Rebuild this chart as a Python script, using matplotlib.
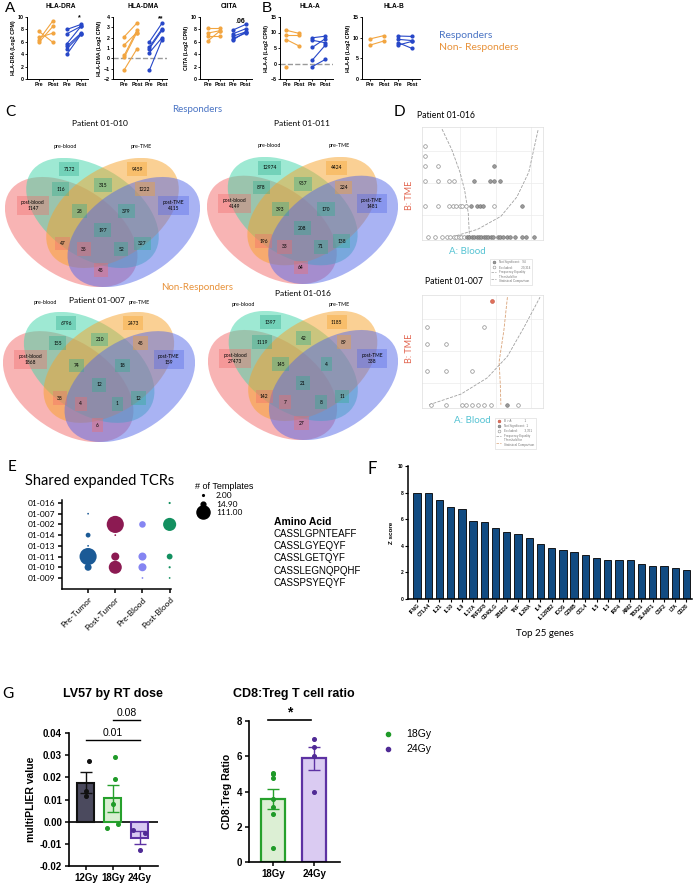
import numpy as np
import matplotlib
matplotlib.use("Agg")
import matplotlib.pyplot as plt
from matplotlib.patches import Ellipse
from matplotlib.lines import Line2D

W, H = 693, 886
plt.rcParams['font.family'] = ['Liberation Sans', 'DejaVu Sans']
CAL = ['Lato', 'DejaVu Sans']

ORANGE = '#f2a540'
BLUE = '#2747c8'

# ---------------- A / B : paired Log2 CPM (NR pre/post, R pre/post) ----------------
dra_nr_pre = [5.9, 6.3, 6.7, 7.7]
dra_nr_post = [8.5, 9.4, 7.4, 5.9]
dra_r_pre = [8.0, 7.3, 5.7, 5.3, 4.9, 4.0]
dra_r_post = [8.8, 8.5, 8.5, 7.4, 7.2, 7.2]

dma_nr_pre = [2.1, 1.3, 0.3, 0.1, -1.1]
dma_nr_post = [3.4, 2.5, 2.7, 2.5, 0.9]
dma_r_pre = [1.6, 1.1, 0.95, 0.55, -1.15]
dma_r_post = [3.4, 2.85, 2.7, 2.0, 1.8]

ciita_nr_pre = [8.3, 7.4, 6.9, 6.1]
ciita_nr_post = [8.3, 7.8, 6.9, 7.8]
ciita_r_pre = [7.9, 7.3, 6.9, 6.5, 6.3]
ciita_r_post = [8.8, 8.1, 7.6, 7.4, 7.6]

hlaa_nr_pre = [10.7, 9.2, 7.7, -1.0]
hlaa_nr_post = [9.7, 9.2, 5.6, np.nan]
hlaa_r_pre = [8.3, 7.5, 5.2, 1.1, -1.0]
hlaa_r_post = [8.8, 6.7, 8.0, 5.9, 1.3]

hlab_nr_pre = [9.7, 8.2]
hlab_nr_post = [10.5, 9.2]
hlab_r_pre = [10.4, 9.6, 8.8, 8.2]
hlab_r_post = [10.3, 9.3, 7.4, 9.1]

pair_ticklabels = ['Pre', 'Post', 'Pre', 'Post']

# ---------------- C : Venn counts ----------------
venn_regions = ['1000', '0100', '0010', '0001', '1100', '0110', '0011', '1110',
                '0111', '1111', '1010', '1011', '1101', '0101', '1001']
counts_010 = [1147, 7172, 9459, 4115, 116, 315, 1222, 28, 379, 197, 47, 35, 52, 327, 45]
counts_011 = [4149, 12974, 4424, 1481, 878, 957, 224, 393, 170, 208, 196, 33, 71, 138, 64]
counts_007 = [1868, 6796, 2473, 159, 155, 210, 45, 74, 18, 12, 38, 4, 1, 12, 6]
counts_016 = [27473, 1397, 1185, 338, 1119, 42, 89, 145, 4, 21, 142, 7, 8, 11, 27]
venn_sets = ['post-blood', 'pre-blood', 'pre-TME', 'post-TME']

# ---------------- D : TCR frequency scatter (scaled log frequency) ----------------
d1_excl_x = [0.005, 0.005, 0.005, 0.005, 0.005, 0.113, 0.113, 0.113, 0.204, 0.253,
             0.204, 0.245, 0.27, 0.30, 0.32, 0.35, 0.59,
             0.03, 0.09, 0.15, 0.19, 0.22, 0.25, 0.27, 0.29, 0.31, 0.33]
d1_excl_y = [0.84, 0.75, 0.655, 0.52, 0.29, 0.655, 0.52, 0.29, 0.52, 0.52,
             0.29, 0.29, 0.29, 0.29, 0.29, 0.29, 0.29,
             0, 0, 0, 0, 0, 0, 0, 0, 0, 0]
d1_ns_x = [0.416, 0.556, 0.584, 0.64, 0.59, 0.397, 0.44, 0.465, 0.49, 0.82,
           0.36, 0.38, 0.40, 0.42, 0.44, 0.46, 0.48, 0.50, 0.52, 0.54, 0.56,
           0.58, 0.62, 0.64, 0.66, 0.70, 0.72, 0.76, 0.82, 0.86, 0.92]
d1_ns_y = [0.52, 0.52, 0.52, 0.52, 0.655, 0.29, 0.29, 0.29, 0.29, 0.29] + [0] * 21
d1_thr_x = [0.149, 0.231, 0.30, 0.34, 0.37, 0.38]
d1_thr_y = [1.0, 0.81, 0.60, 0.43, 0.22, 0.0]
d1_eq_x = [0.27, 0.45, 0.645, 0.78, 0.88, 0.96]
d1_eq_y = [0.01, 0.07, 0.19, 0.37, 0.60, 1.0]

d2_excl_x = [0.02, 0.02, 0.02, 0.185, 0.185, 0.40, 0.50,
             0.06, 0.185, 0.32, 0.35, 0.40, 0.45, 0.50, 0.56, 0.79]
d2_excl_y = [0.72, 0.566, 0.31, 0.566, 0.31, 0.31, 0.72,
             0, 0, 0, 0, 0, 0, 0, 0, 0]
d2_ns_x = [0.70]
d2_ns_y = [0.0]
d2_sig_x = [0.57]
d2_sig_y = [0.965]
d2_thr_x = [0.70, 0.67, 0.63, 0.64, 0.645]
d2_thr_y = [1.0, 0.69, 0.40, 0.19, 0.0]
d2_eq_x = [0.04, 0.31, 0.53, 0.70, 0.84, 0.975]
d2_eq_y = [0.0, 0.10, 0.25, 0.45, 0.72, 1.0]

# ---------------- E : shared expanded TCRs ----------------
tcr_patients = ['01-009', '01-010', '01-011', '01-013', '01-014', '01-002', '01-007', '01-016']
tcr_compartments = ['Pre-Tumor', 'Post-Tumor', 'Pre-Blood', 'Post-Blood']
pre_tumor_pat = ['01-007', '01-014', '01-013', '01-010', '01-011']
pre_tumor_n = [2, 15, 2, 32, 190]
post_tumor_pat = ['01-002', '01-014', '01-011', '01-010']
post_tumor_n = [190, 2, 42, 110]
pre_blood_pat = ['01-002', '01-011', '01-010', '01-009']
pre_blood_n = [28, 42, 42, 2]
post_blood_pat = ['01-016', '01-002', '01-011', '01-010', '01-009']
post_blood_n = [3, 111, 22, 3, 2]
size_legend_n = [2.00, 14.90, 111.00]
amino_acids = ['CASSLGPNTEAFF', 'CASSLGYEQYF', 'CASSLGETQYF', 'CASSLEGNQPQHF', 'CASSPSYEQYF']

# ---------------- F : top 25 genes ----------------
genes = ['IFNG', 'CTLA4', 'IL21', 'IL10', 'IL9', 'IL17A', 'TNFSF8', 'CD40LG', 'ZBED2', 'TNF',
         'IL2RA', 'IL4', 'IL12RB2', 'ICOS', 'GZMB', 'CCL4', 'IL5', 'IL3', 'IRF4', 'AIM2',
         'TBX21', 'SLAMF1', 'CSF2', 'LTA', 'CD28']
zscores = [8.0, 7.95, 7.45, 6.95, 6.75, 5.9, 5.8, 5.35, 5.05, 4.85,
           4.6, 4.1, 3.8, 3.65, 3.55, 3.3, 3.05, 2.95, 2.9, 2.9,
           2.65, 2.5, 2.5, 2.35, 2.2]

# ---------------- G : LV57 and CD8:Treg ----------------
lv_doses = ['12Gy', '18Gy', '24Gy']
lv57_12 = [0.0272, 0.0140, 0.0117]
lv57_18 = [0.0293, 0.0193, 0.0078, -0.0012, -0.0027]
lv57_24 = [-0.0037, -0.0052, -0.0127]
ratio_doses = ['18Gy', '24Gy']
ratio_18 = [5.04, 5.0, 4.76, 3.57, 3.12, 2.72, 0.78]
ratio_24 = [7.0, 6.5, 6.0, 4.0]

fig = plt.figure(figsize=(W / 100, H / 100), dpi=100)


def px_axes(x0, y0, x1, y1):
    return fig.add_axes([x0 / W, 1 - y1 / H, (x1 - x0) / W, (y1 - y0) / H])


def ftext(x, y, s, **kw):
    kw.setdefault('ha', 'center')
    kw.setdefault('va', 'center')
    fig.text(x / W, 1 - y / H, s, **kw)


# ======================= Panel A / B =======================
a_specs = [
    ('HLA-DRA', (dra_nr_pre, dra_nr_post, dra_r_pre, dra_r_post), (27, 88), (-0.85, 3.5),
     (0, 10), np.arange(0, 11, 2), None, '*', 9.9),
    ('HLA-DMA', (dma_nr_pre, dma_nr_post, dma_r_pre, dma_r_post), (113, 167), (-0.9, 3.4),
     (-2, 4), np.arange(-2, 5, 1), 0, '**', 3.85),
    ('CIITA', (ciita_nr_pre, ciita_nr_post, ciita_r_pre, ciita_r_post), (200, 252), (-0.6, 3.5),
     (0, 10), np.arange(0, 11, 2), None, '.06', 9.3),
    ('HLA-A', (hlaa_nr_pre, hlaa_nr_post, hlaa_r_pre, hlaa_r_post), (280, 333), (-0.5, 3.6),
     (-5, 15), np.arange(-5, 16, 5), 0, None, None),
    ('HLA-B', (hlab_nr_pre, hlab_nr_post, hlab_r_pre, hlab_r_post), (362, 420), (-0.57, 3.57),
     (0, 15), np.arange(0, 16, 5), None, None, None),
]
for title, (nrp, nrq, rp, rq), (x0, x1), xl, yl, yt, hline, sig, sigy in a_specs:
    ax = px_axes(x0, 17, x1, 79)
    if hline is not None:
        ax.axhline(hline, color='#9a9a9a', ls='--', lw=1.0, zorder=0)
    for a, b in zip(nrp, nrq):
        ax.plot([0, 1], [a, b], color=ORANGE, lw=0.8, marker='o', ms=2, clip_on=False)
    for a, b in zip(rp, rq):
        ax.plot([2, 3], [a, b], color=BLUE, lw=0.8, marker='o', ms=2, clip_on=False)
    ax.set_xlim(*xl)
    ax.set_ylim(*yl)
    ax.set_yticks(yt)
    ax.set_xticks([0, 1, 2, 3], pair_ticklabels)
    ax.spines[['top', 'right']].set_visible(False)
    ax.spines[['left', 'bottom']].set_linewidth(0.7)
    ax.tick_params(labelsize=3.8, length=1.5, width=0.6, pad=1)
    for lab in ax.get_xticklabels() + ax.get_yticklabels():
        lab.set_fontweight('bold')
    ax.set_ylabel(title + ' (Log2 CPM)', fontsize=3.8, fontweight='bold', labelpad=1)
    if sig:
        ax.text(2.9 if sig != '.06' else 2.6, sigy, sig, fontsize=5, fontweight='bold',
                ha='center', va='center')
    ftext((x0 + x1) / 2 + 3, 7, title, fontsize=4.8, fontweight='bold')

ftext(5, 8, 'A', fontsize=11, ha='left')
ftext(267, 8, 'B', fontsize=11)
ftext(439, 35, 'Responders', fontsize=7.5, color='#4a74c4', ha='left', family=CAL)
ftext(439, 48, 'Non- Responders', fontsize=7.5, color='#e8923a', ha='left', family=CAL)

# ======================= Panel C : Venns =======================
ELL = [(0.35, 0.4, 140), (0.45, 0.5, 140), (0.544, 0.5, 40), (0.644, 0.4, 40)]
venn_colors = ['#f26b6b', '#3fd4a8', '#f7a22a', '#5468e8']
venn_text_xy = [(0.17, 0.54), (0.34, 0.73), (0.66, 0.73), (0.83, 0.54), (0.30, 0.625),
                (0.50, 0.645), (0.695, 0.625), (0.39, 0.51), (0.61, 0.51), (0.497, 0.41),
                (0.31, 0.34), (0.41, 0.31), (0.585, 0.31), (0.685, 0.34), (0.49, 0.20)]


def draw_venn(box, counts, label_x, label_y):
    ax = px_axes(*box)
    ax.set_xlim(0.039, 0.955)
    ax.set_ylim(0.112, 0.788)
    ax.axis('off')
    for (cx, cy, ang), col in zip(ELL, venn_colors):
        ax.add_patch(Ellipse((cx, cy), 0.72, 0.45, angle=ang, fc=col, ec='none', alpha=0.5))
    for code, n, (tx, ty) in zip(venn_regions, counts, venn_text_xy):
        s = str(n)
        if code == '1000':
            s = 'post-blood\n' + s
        if code == '0001':
            s = 'post-TME\n' + s
        if code[1] == '1':
            bc = '#2fae90'
        else:
            bc = venn_colors[code.index('1')]
        ax.text(tx, ty, s, fontsize=3.5, ha='center', va='center', linespacing=1.2,
                family=CAL, bbox=dict(boxstyle='square,pad=0.9', fc=bc, ec='none', alpha=0.38))
    ax.text(label_x[0], label_y, venn_sets[1], fontsize=3.9, ha='center', va='center', family=CAL)
    ax.text(label_x[1], label_y, venn_sets[2], fontsize=3.9, ha='center', va='center', family=CAL)


draw_venn((5, 158, 200, 287), counts_010, (0.32, 0.68), 0.85)
draw_venn((207, 157, 398, 284), counts_011, (0.34, 0.675), 0.85)
draw_venn((3, 312, 195, 442), counts_007, (0.24, 0.69), 0.835)
draw_venn((208, 311, 398, 440), counts_016, (0.21, 0.67), 0.82)

ftext(10, 112, 'C', fontsize=11, family=CAL)
ftext(197, 110, 'Responders', fontsize=7, color='#4a74c4', family=CAL)
ftext(197, 288, 'Non-Responders', fontsize=7, color='#e8923a', family=CAL)
ftext(100, 124, 'Patient 01-010', fontsize=6, family=CAL)
ftext(302, 124, 'Patient 01-011', fontsize=6, family=CAL)
ftext(97, 300, 'Patient 01-007', fontsize=6, family=CAL)
ftext(303, 294, 'Patient 01-016', fontsize=6, family=CAL)

# ======================= Panel D : TCR scatter =======================


def tcr_scatter(box, ex, ey, nx, ny, sx, sy, tx, ty, qx, qy, thr_col, leg_labels, leg_xy):
    ax = px_axes(*box)
    ax.set_xlim(-0.02, 1.0)
    ax.set_ylim(-0.03, 1.02)
    ax.set_xticks([0.3, 0.6, 0.9])
    ax.set_yticks([0.2, 0.5, 0.8])
    ax.grid(color='#ececec', lw=0.5)
    ax.set_axisbelow(True)
    ax.tick_params(length=0, labelleft=False, labelbottom=False)
    for sp in ax.spines.values():
        sp.set_color('#dddddd')
        sp.set_linewidth(0.5)
    ax.plot(tx, ty, ls='--', color=thr_col, lw=0.6)
    ax.plot(qx, qy, ls='--', color='#a0a0a0', lw=0.6)
    ax.plot(ex, ey, ls='', marker='o', ms=2.6, mfc='white', mec='#8c8c8c', mew=0.5, clip_on=False)
    ax.plot(nx, ny, ls='', marker='o', ms=2.6, mfc='#9a9a9a', mec='#6a6a6a', mew=0.4, clip_on=False)
    handles = []
    if sx:
        ax.plot(sx, sy, ls='', marker='o', ms=2.8, mfc='#e0705a', mec='#c05040', mew=0.4, clip_on=False)
        handles.append(Line2D([], [], ls='', marker='o', ms=2, mfc='#e0705a', mec='#c05040', mew=0.4))
    handles += [Line2D([], [], ls='', marker='o', ms=2, mfc='#9a9a9a', mec='#6a6a6a', mew=0.4),
                Line2D([], [], ls='', marker='o', ms=2, mfc='white', mec='#8c8c8c', mew=0.4),
                Line2D([], [], ls='--', color='#a0a0a0', lw=0.5),
                Line2D([], [], ls='--', color=thr_col, lw=0.5)]
    leg = ax.legend(handles, leg_labels, loc='upper left', fontsize=2.2, frameon=True,
                    bbox_to_anchor=(leg_xy[0] / W, 1 - leg_xy[1] / H), bbox_transform=fig.transFigure,
                    handlelength=1.6, borderpad=0.6, labelspacing=0.25, fancybox=False)
    leg.get_frame().set_edgecolor('#cccccc')
    leg.get_frame().set_linewidth(0.4)
    for t in leg.get_texts():
        t.set_color('#777777')
    return ax


tcr_scatter((422, 127, 543, 240), d1_excl_x, d1_excl_y, d1_ns_x, d1_ns_y, [], [],
            d1_thr_x, d1_thr_y, d1_eq_x, d1_eq_y, '#a0a0a0',
            ['Not Significant:   94', 'Excluded:          29,314', 'Frequency Equality',
             'Threshold for\nStatistical Comparison'], (488, 257))
tcr_scatter((422, 295, 543, 408), d2_excl_x, d2_excl_y, d2_ns_x, d2_ns_y, d2_sig_x, d2_sig_y,
            d2_thr_x, d2_thr_y, d2_eq_x, d2_eq_y, '#d9a277',
            ['B > A:              1', 'Not Significant:  1', 'Excluded:        3,351',
             'Frequency Equality', 'Threshold for\nStatistical Comparison'], (493, 416))

ftext(399, 112, 'D', fontsize=11, family=CAL)
ftext(446, 115, 'Patient 01-016', fontsize=6.2, family=CAL)
ftext(454, 282, 'Patient 01-007', fontsize=6.2, family=CAL)
ftext(410, 195, 'B: TME', fontsize=6.5, color='#e2654f', rotation=90, family=CAL)
ftext(410, 348, 'B: TME', fontsize=6.5, color='#e2654f', rotation=90, family=CAL)
ftext(467, 251, 'A: Blood', fontsize=7, color='#55c3d3', family=CAL)
ftext(472, 421, 'A: Blood', fontsize=7, color='#55c3d3', family=CAL)

# ======================= Panel E : bubbles =======================
SIZE_K = 0.8
axe = px_axes(62, 500, 171, 589)
bubble_sets = [(pre_tumor_pat, pre_tumor_n, '#1b5a96'), (post_tumor_pat, post_tumor_n, '#8c1a52'),
               (pre_blood_pat, pre_blood_n, '#8585f2'), (post_blood_pat, post_blood_n, '#139060')]
for ci, (pats, ns, col) in enumerate(bubble_sets):
    ys = [tcr_patients.index(p) for p in pats]
    axe.scatter([ci] * len(ys), ys, s=np.array(ns) * SIZE_K, color=col, edgecolors='none',
                clip_on=False, zorder=3)
axe.set_xlim(-0.96, 3.05)
axe.set_ylim(-1.03, 7.28)
axe.set_yticks(range(len(tcr_patients)), tcr_patients)
axe.set_xticks(range(4))
axe.set_xticklabels(tcr_compartments, rotation=45, ha='right', rotation_mode='anchor', family=CAL)
axe.spines[['top', 'right']].set_visible(False)
axe.spines[['left', 'bottom']].set_linewidth(1.1)
axe.tick_params(labelsize=6, length=3, width=1.1, pad=2)
for lab in axe.get_yticklabels():
    lab.set_family(CAL)
size_handles = [Line2D([], [], ls='', marker='o', color='black', ms=np.sqrt(v * SIZE_K))
                for v in size_legend_n]
fig.legend(size_handles, ['%.2f' % v for v in size_legend_n], title='# of Templates',
           loc='upper left', bbox_to_anchor=(191 / W, 1 - 478 / H), frameon=False,
           title_fontsize=6.5, labelspacing=0.15, handletextpad=0.5, borderpad=0,
           alignment='left', prop={'family': CAL, 'size': 6})

ftext(12, 467, 'E', fontsize=11, family=CAL)
ftext(25, 481, 'Shared expanded TCRs', fontsize=10.5, ha='left', family=CAL)
ftext(274, 522, 'Amino Acid', fontsize=7.5, fontweight='bold', ha='left')
for i, aa in enumerate(amino_acids):
    ftext(274, 534 + i * 12.2, aa, fontsize=7, ha='left')

# ======================= Panel F : z scores =======================
axf = px_axes(408, 466, 692, 599)
axf.bar(range(len(genes)), zscores, width=0.65, color='#114b82', edgecolor='black', lw=0.6)
axf.set_xlim(-0.8, 24.5)
axf.set_ylim(0, 10)
axf.set_yticks(range(0, 11, 2))
axf.set_xticks(range(len(genes)))
axf.set_xticklabels(genes, rotation=45, ha='right', rotation_mode='anchor')
axf.spines[['top', 'right']].set_visible(False)
axf.spines[['left', 'bottom']].set_linewidth(1.1)
axf.tick_params(labelsize=3.6, length=2, width=0.8, pad=1)
for lab in axf.get_xticklabels() + axf.get_yticklabels():
    lab.set_fontweight('bold')
axf.set_ylabel('Z score', fontsize=4.5, fontweight='bold', labelpad=3)
ftext(372, 469, 'F', fontsize=12, family=CAL)
ftext(545, 633, 'Top 25 genes', fontsize=7, family=CAL)

# ======================= Panel G : LV57 =======================
axg = px_axes(69, 733, 158, 866)
lv_groups = [lv57_12, lv57_18, lv57_24]
lv_fill = ['#4b4a5e', '#d9efd2', '#d8c9f2']
lv_edge = ['#111111', '#26a02c', '#5d32a3']
lv_dot = ['#111111', '#1f9a28', '#4f2a95']
lv_jitter = [[0.1, 0.0, 0.0], [0.08, 0.08, 0.0, 0.18, -0.23], [-0.25, 0.2, 0.0]]
for i, vals in enumerate(lv_groups):
    m = np.mean(vals)
    sem = np.std(vals, ddof=1) / np.sqrt(len(vals))
    axg.bar(i, m, width=0.63, color=lv_fill[i], edgecolor=lv_edge[i], lw=1.5, zorder=2)
    axg.errorbar(i, m, yerr=sem, color=lv_edge[i], capsize=4, lw=1, capthick=1, zorder=3)
    axg.plot(np.array(lv_jitter[i]) + i, vals, ls='', marker='o', ms=2.6, color=lv_dot[i], zorder=4)
axg.axhline(0, color='black', lw=1.2, zorder=1)
axg.set_xlim(-0.63, 2.67)
axg.set_ylim(-0.02, 0.04)
axg.set_yticks(np.arange(-0.02, 0.041, 0.01))
axg.yaxis.set_major_formatter(matplotlib.ticker.FormatStrFormatter('%.2f'))
axg.set_xticks(range(3), lv_doses)
axg.spines[['top', 'right']].set_visible(False)
axg.spines[['left', 'bottom']].set_linewidth(1.2)
axg.tick_params(labelsize=7, length=3, width=1.1, pad=2)
for lab in axg.get_xticklabels() + axg.get_yticklabels():
    lab.set_fontweight('bold')
axg.set_ylabel('multiPLIER value', fontsize=7.5, fontweight='bold', labelpad=3)
axg.plot([1, 2], [0.0459, 0.0459], color='black', lw=1, clip_on=False)
axg.text(1.5, 0.0468, '0.08', fontsize=7.5, ha='center', va='bottom')
axg.plot([0, 2], [0.037, 0.037], color='black', lw=1, clip_on=False)
axg.text(1.0, 0.0378, '0.01', fontsize=7.5, ha='center', va='bottom')
ftext(113, 694, 'LV57 by RT dose', fontsize=9, fontweight='bold')
ftext(8, 694, 'G', fontsize=11, family=CAL)

# ======================= Panel G : CD8:Treg =======================
axr = px_axes(249, 721, 340, 862)
ratio_groups = [ratio_18, ratio_24]
r_fill = ['#dcefd4', '#dacbf2']
r_edge = ['#26a02c', '#5d32a3']
r_dot = ['#1f9a28', '#4f2a95']
for i, vals in enumerate(ratio_groups):
    m = np.mean(vals)
    sem = np.std(vals, ddof=1) / np.sqrt(len(vals))
    axr.bar(i, m, width=0.6, color=r_fill[i], edgecolor=r_edge[i], lw=1.6, zorder=2)
    axr.errorbar(i, m, yerr=sem, color=r_edge[i], capsize=4, lw=1, capthick=1, zorder=3)
    axr.plot([i] * len(vals), vals, ls='', marker='o', ms=2.6, color=r_dot[i], zorder=4)
axr.set_xlim(-0.585, 1.63)
axr.set_ylim(0, 8)
axr.set_yticks(range(0, 9, 2))
axr.set_xticks(range(2), ratio_doses)
axr.spines[['top', 'right']].set_visible(False)
axr.spines[['left', 'bottom']].set_linewidth(1.2)
axr.tick_params(labelsize=7, length=3, width=1.1, pad=2)
for lab in axr.get_xticklabels() + axr.get_yticklabels():
    lab.set_fontweight('bold')
axr.set_ylabel('CD8:Treg Ratio', fontsize=7.5, fontweight='bold', labelpad=3)
axr.plot([-0.12, 0.92], [8.05, 8.05], color='black', lw=1.2, clip_on=False)
axr.text(0.4, 8.1, '*', fontsize=10, ha='center', va='bottom', fontweight='bold')
ftext(294, 694, 'CD8:Treg T cell ratio', fontsize=9, fontweight='bold')
dose_handles = [Line2D([], [], ls='', marker='o', ms=3, color=c) for c in r_dot]
fig.legend(dose_handles, ratio_doses, loc='upper left', bbox_to_anchor=(372 / W, 1 - 724 / H),
           frameon=False, fontsize=7.5, handletextpad=0.8, labelspacing=0.5, borderpad=0)

fig.savefig('out.png', dpi=100)
